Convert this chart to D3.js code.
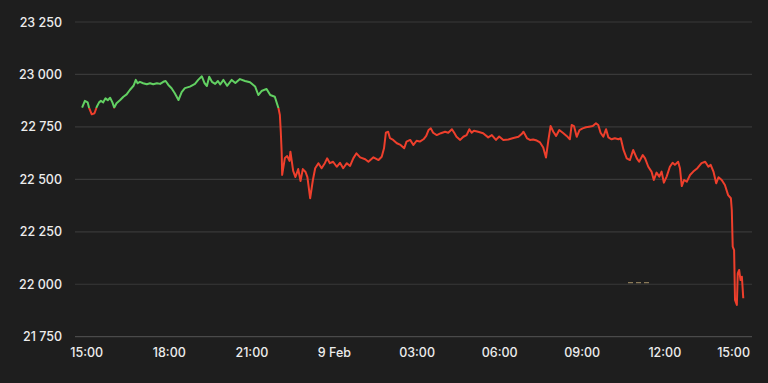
<!DOCTYPE html>
<html>
<head>
<meta charset="utf-8">
<script src="https://cdn.jsdelivr.net/npm/d3@7"></script>
<style>
  html, body { margin: 0; padding: 0; background: #1e1e1e; }
  svg { display: block; }
  text { font-family: Inter, "Liberation Sans", sans-serif; }
</style>
</head>
<body>
<svg id="chart" width="768" height="383"></svg>
<script>
// ---- data ----
// minutes after 8 Feb 15:00
const minutes = [-10,-4,2,5,11,17,22,27,31,36,41,46,51,56,60,65,73,80,87,94,102,107,111,116,123,131,138,145,153,160,167,172,178,185,192,200,207,214,225,236,243,251,257,262,267,273,280,286,291,298,306,316,324,334,345,356,367,374,381,392,400,410,418,421,423,425,426,432,437,442,444,450,455,461,466,471,477,481,487,493,498,505,512,519,524,530,537,545,552,559,567,574,581,588,596,607,614,625,636,643,648,652,657,661,668,676,684,692,697,705,712,719,726,734,740,745,750,755,763,772,781,788,796,801,806,814,821,828,834,839,844,853,864,875,883,892,899,908,919,930,941,948,952,960,966,973,981,988,995,1001,1006,1011,1017,1023,1030,1039,1046,1053,1057,1062,1068,1074,1081,1088,1095,1103,1110,1115,1120,1126,1132,1137,1144,1151,1159,1164,1170,1177,1184,1191,1199,1204,1212,1217,1224,1231,1236,1242,1248,1253,1258,1264,1271,1277,1282,1289,1293,1297,1302,1308,1315,1322,1331,1340,1348,1355,1360,1366,1372,1377,1384,1391,1398,1404,1406,1408,1411,1413,1417,1419,1422,1425,1428,1431];
const values = [22842,22874,22867,22842,22810,22815,22846,22867,22874,22867,22886,22877,22889,22867,22842,22863,22878,22894,22905,22926,22946,22974,22958,22965,22958,22953,22958,22953,22958,22955,22965,22969,22950,22934,22910,22878,22916,22935,22942,22955,22974,22991,22958,22945,22989,22965,22955,22969,22952,22974,22946,22974,22959,22978,22969,22963,22943,22902,22921,22931,22902,22894,22839,22807,22727,22626,22521,22602,22611,22588,22632,22540,22511,22549,22492,22549,22535,22511,22410,22497,22553,22577,22553,22577,22600,22577,22584,22560,22579,22553,22577,22564,22600,22624,22605,22596,22584,22605,22592,22608,22648,22722,22727,22696,22688,22672,22664,22648,22680,22688,22664,22684,22680,22691,22707,22735,22743,22722,22711,22720,22727,22722,22739,22722,22703,22688,22703,22711,22739,22722,22732,22727,22720,22700,22711,22688,22704,22688,22690,22697,22703,22716,22727,22695,22688,22690,22685,22676,22652,22604,22683,22754,22727,22707,22735,22720,22707,22691,22759,22754,22703,22735,22743,22748,22751,22754,22767,22759,22722,22703,22739,22700,22691,22696,22691,22696,22640,22600,22592,22640,22600,22584,22616,22600,22560,22537,22497,22532,22513,22537,22484,22513,22560,22579,22569,22584,22553,22468,22497,22489,22521,22537,22553,22577,22584,22560,22569,22537,22481,22510,22497,22473,22425,22410,22354,22179,22163,21925,21901,22052,22068,22020,22036,21933];
const previousClose = 22840;
const yTicks = [21750, 22000, 22250, 22500, 22750, 23000, 23250];
const xTickHours = [0, 3, 6, 9, 12, 15, 18, 21, 24]; // hours after 8 Feb 15:00

// ---- setup ----
const start = new Date(2025, 1, 8, 15, 0);
const data = minutes.map((m, i) => ({ t: new Date(start.getTime() + m * 60000), v: values[i] }));

const svg = d3.select('#chart');
const W = 768, H = 383;
const gridLeft = 75, gridRight = 752;

const x = d3.scaleTime()
  .domain([start, d3.timeHour.offset(start, 24)])
  .range([86.7, 747.4]);
const y = d3.scaleLinear()
  .domain([21750, 23250])
  .range([336.7, 22]);

const fmtNum = d3.formatLocale({ decimal: '.', thousands: ' ', grouping: [3], currency: ['', ''] }).format(',d');
const fmtTime = d => (d.getHours() === 0 && d.getMinutes() === 0) ? d3.timeFormat('%-d %b')(d) : d3.timeFormat('%H:%M')(d);

// gridlines
svg.append('g')
  .selectAll('line')
  .data(yTicks)
  .join('line')
  .attr('x1', gridLeft).attr('x2', gridRight)
  .attr('y1', d => y(d)).attr('y2', d => y(d))
  .attr('stroke', d => d === 21750 ? '#4a4a4a' : '#393939')
  .attr('stroke-width', 1.2);

// y labels
svg.append('g')
  .selectAll('text')
  .data(yTicks)
  .join('text')
  .attr('x', 62)
  .attr('y', d => y(d))
  .attr('dy', '0.36em')
  .attr('text-anchor', 'end')
  .attr('fill', '#ececec')
  .attr('font-size', 12.5)
  .attr('font-weight', 500)
  .text(d => fmtNum(d));

// x labels
const xTicks = xTickHours.map(h => d3.timeHour.offset(start, h));
const xl = svg.append('g')
  .selectAll('text')
  .data(xTicks)
  .join('text')
  .attr('y', 352)
  .attr('dy', '0.36em')
  .attr('fill', '#ececec')
  .attr('font-size', 12.5)
  .attr('font-weight', 500)
  .attr('text-anchor', 'middle')
  .attr('x', d => x(d))
  .text(d => fmtTime(d));
// keep labels inside the plot's right edge
xl.each(function () {
  const bb = this.getBBox();
  if (bb.x + bb.width > 750) {
    d3.select(this).attr('text-anchor', 'end').attr('x', 750);
  }
});

// faint dashed marker
svg.append('line')
  .attr('x1', 628).attr('x2', 651)
  .attr('y1', y(22008)).attr('y2', y(22008))
  .attr('stroke', '#8a7a58')
  .attr('stroke-width', 1.3)
  .attr('stroke-dasharray', '5,3');

// clip regions above / below previous close
const defs = svg.append('defs');
defs.append('clipPath').attr('id', 'above')
  .append('rect').attr('x', 0).attr('y', 0).attr('width', W).attr('height', y(previousClose));
defs.append('clipPath').attr('id', 'below')
  .append('rect').attr('x', 0).attr('y', y(previousClose)).attr('width', W).attr('height', H - y(previousClose));

const line = d3.line().x(d => x(d.t)).y(d => y(d.v)).curve(d3.curveLinear);

svg.append('path')
  .datum(data)
  .attr('d', line)
  .attr('fill', 'none')
  .attr('stroke', '#62d062')
  .attr('stroke-width', 2)
  .attr('stroke-linejoin', 'round')
  .attr('clip-path', 'url(#above)');

svg.append('path')
  .datum(data)
  .attr('d', line)
  .attr('fill', 'none')
  .attr('stroke', '#ee3f2c')
  .attr('stroke-width', 2)
  .attr('stroke-linejoin', 'round')
  .attr('clip-path', 'url(#below)');
</script>
</body>
</html>
